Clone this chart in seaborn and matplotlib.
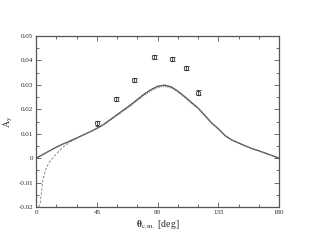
import numpy as np
import matplotlib
matplotlib.use("Agg")
import matplotlib.pyplot as plt
import seaborn as sns
from matplotlib.ticker import MultipleLocator, FuncFormatter

# measured points (theta c.m. in deg, A_y, error)
exp_theta = [45, 59, 72.5, 87, 101, 111, 120]
exp_ay = [0.0143, 0.0242, 0.0320, 0.0414, 0.0406, 0.0369, 0.0267]
exp_err = [0.0010, 0.0008, 0.0010, 0.0009, 0.0008, 0.0010, 0.0010]

# calculations
th_full = [0, 5, 10, 15, 20, 25, 30, 35, 40, 45, 50, 55, 60, 65, 70, 75, 80, 85,
           90, 95, 100, 105, 110, 115, 120, 125, 130, 135, 140, 145, 150, 155,
           160, 165, 170, 175, 180]
ay_solid = [0, 0.0015, 0.0030, 0.0045, 0.0058, 0.0070, 0.0082, 0.0095, 0.0108,
            0.0122, 0.0138, 0.0158, 0.0178, 0.0198, 0.0218, 0.0240, 0.0262,
            0.0280, 0.0294, 0.0299, 0.0292, 0.0274, 0.0252, 0.0228, 0.0205,
            0.0175, 0.0144, 0.0120, 0.0092, 0.0074, 0.0062, 0.0050, 0.0039,
            0.0030, 0.0020, 0.0010, 0]
ay_dotted = [0, 0.0015, 0.0030, 0.0045, 0.0058, 0.0070, 0.0082, 0.0095, 0.0108,
             0.0121, 0.0136, 0.0155, 0.0175, 0.0194, 0.0214, 0.0236, 0.0257,
             0.0275, 0.0289, 0.0294, 0.0288, 0.0271, 0.0249, 0.0225, 0.0203,
             0.0173, 0.0143, 0.0119, 0.0092, 0.0074, 0.0062, 0.0050, 0.0039,
             0.0030, 0.0020, 0.0010, 0]
th_dash = [2, 3, 5, 7.5, 10, 15, 20, 25, 30, 35, 40, 45, 50, 55, 60, 65, 70, 75,
           80, 85, 90, 95, 100, 105, 110, 115, 120, 125, 130, 135, 140, 145,
           150, 155, 160, 165, 170, 175, 180]
ay_dash = [-0.0200, -0.0185, -0.0090, -0.0040, -0.0015, 0.0018, 0.0045, 0.0066,
           0.0081, 0.0095, 0.0108, 0.0122, 0.0138, 0.0158, 0.0178, 0.0198,
           0.0218, 0.0240, 0.0262, 0.0280, 0.0294, 0.0299, 0.0292, 0.0274,
           0.0252, 0.0228, 0.0205, 0.0175, 0.0144, 0.0120, 0.0092, 0.0074,
           0.0062, 0.0050, 0.0039, 0.0030, 0.0020, 0.0010, 0]

sns.set_style("ticks")
plt.rcParams["font.family"] = ["Liberation Serif", "DejaVu Serif"]
plt.rcParams["mathtext.fontset"] = "stix"

fig = plt.figure(figsize=(3.14, 2.43), dpi=100)
ax = fig.add_axes([0.115, 0.148, 0.774, 0.704])

sns.lineplot(x=th_full, y=ay_solid, color="#444444", linewidth=0.9, ax=ax)
sns.lineplot(x=th_full, y=ay_dotted, color="#777777", linewidth=0.8,
             linestyle=(0, (1, 1)), ax=ax)
sns.lineplot(x=th_dash, y=ay_dash, color="#777777", linewidth=0.6,
             linestyle=(0, (3, 2)), ax=ax)

# data points: open circles with capped error bars
ax.errorbar(exp_theta, exp_ay, yerr=exp_err, fmt="o", ms=3.2, mfc="none",
            mec="#333333", mew=0.6, ecolor="#333333", elinewidth=0.6,
            capsize=1.8, capthick=0.6, zorder=3)

ax.set_xlim(0, 180)
ax.set_ylim(-0.02, 0.05)
ax.xaxis.set_major_locator(MultipleLocator(45))
ax.xaxis.set_minor_locator(MultipleLocator(15))
ax.yaxis.set_major_locator(MultipleLocator(0.01))
ax.yaxis.set_minor_locator(MultipleLocator(0.005))
ax.xaxis.set_major_formatter(FuncFormatter(lambda v, p: "%d" % round(v)))
ax.yaxis.set_major_formatter(FuncFormatter(
    lambda v, p: "0" if abs(v) < 1e-9 else ("%.2f" % v)))
ax.tick_params(which="both", direction="in", top=True, right=True,
               labelsize=5, width=0.6, color="#555555", pad=2)
ax.tick_params(which="major", length=3.5)
ax.tick_params(which="minor", length=2)
for s in ax.spines.values():
    s.set_linewidth(0.9)
    s.set_color("#555555")

ax.set_xlabel(r"$\mathbf{\theta}_{\mathrm{c.m.}}$ [deg]", fontsize=7, labelpad=2)
ax.set_ylabel(r"$\mathrm{A}_{\mathrm{y}}$", fontsize=7, labelpad=3)

fig.savefig("out.png", dpi=100)
